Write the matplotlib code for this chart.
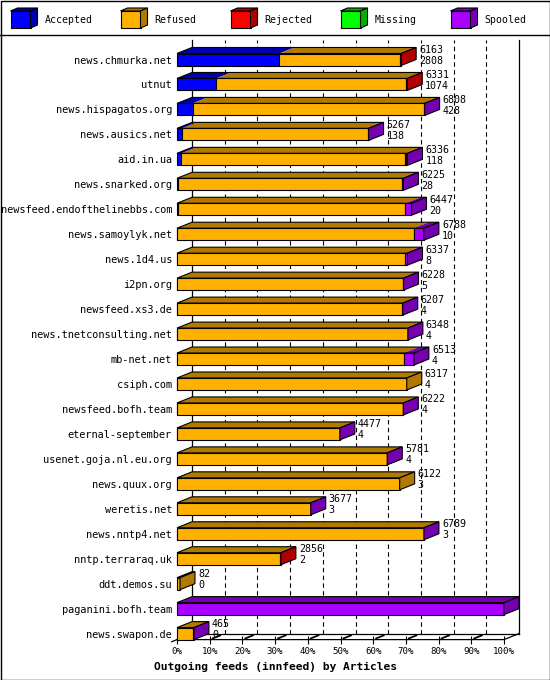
import matplotlib.pyplot as plt
from matplotlib.patches import Polygon, Rectangle

# innfeed outgoing feeds, articles per peer
hosts = ["news.chmurka.net", "utnut", "news.hispagatos.org", "news.ausics.net",
         "aid.in.ua", "news.snarked.org", "newsfeed.endofthelinebbs.com",
         "news.samoylyk.net", "news.1d4.us", "i2pn.org", "newsfeed.xs3.de",
         "news.tnetconsulting.net", "mb-net.net", "csiph.com", "newsfeed.bofh.team",
         "eternal-september", "usenet.goja.nl.eu.org", "news.quux.org",
         "weretis.net", "news.nntp4.net", "nntp.terraraq.uk", "ddt.demos.su",
         "paganini.bofh.team", "news.swapon.de"]
total = [6163, 6331, 6808, 5267, 6336, 6225, 6447, 6788, 6337, 6228, 6207, 6348,
         6513, 6317, 6222, 4477, 5781, 6122, 3677, 6789, 2856, 82, 8991, 465]
accepted = [2808, 1074, 428, 138, 118, 28, 20, 10, 8, 5, 4, 4,
            4, 4, 4, 4, 4, 3, 3, 3, 2, 0, 0, 0]
refused = [3315, 5217, 6360, 5104, 6158, 6147, 6262, 6503, 6249, 6203, 6193, 6334,
           6234, 6313, 6208, 4468, 5772, 6119, 3669, 6781, 2824, 82, 0, 450]
rejected = [40, 40, 0, 0, 30, 0, 0, 0, 0, 0, 0, 0,
            0, 0, 0, 0, 0, 0, 0, 0, 30, 0, 0, 0]
missing = [0] * 24
spooled = [0, 0, 20, 25, 30, 50, 165, 275, 80, 20, 10, 10,
           275, 0, 10, 5, 5, 0, 5, 5, 0, 0, 8991, 15]

series_names = ["Accepted", "Refused", "Rejected", "Missing", "Spooled"]
series = [accepted, refused, rejected, missing, spooled]
front_colors = ["#0000ff", "#ffb000", "#ff0000", "#00ff00", "#aa00ff"]
dark_colors = ["#0000b0", "#b07900", "#b00000", "#00b000", "#7400b0"]

W, H = 550, 680
mono = "DejaVu Sans Mono"
fig = plt.figure(figsize=(W / 100, H / 100), dpi=100)

# legend strip + outer frame, in pixel coordinates
lg = fig.add_axes([0, 0, 1, 1])
lg.set_xlim(0, W)
lg.set_ylim(H, 0)
lg.axis("off")
lg.add_patch(Rectangle((0.5, 0.5), W - 1, H - 1, fill=False, ec="black", lw=1))
lg.plot([0, W], [35, 35], color="black", lw=1)
for j, name in enumerate(series_names):
    x0 = 10.5 + j * 110
    lg.add_patch(Rectangle((x0, 11), 20, 17, fc=front_colors[j], ec="black", lw=0.8))
    lg.add_patch(Polygon([(x0, 11), (x0 + 20, 11), (x0 + 27, 8), (x0 + 7, 8)],
                         fc=dark_colors[j], ec="black", lw=0.8))
    lg.add_patch(Polygon([(x0 + 20, 11), (x0 + 27, 8), (x0 + 27, 25), (x0 + 20, 28)],
                         fc=dark_colors[j], ec="black", lw=0.8))
    lg.text(x0 + 34, 20, name, family=mono, fontsize=7.1, va="center", ha="left")

# main plot: front plane of the 3d bars
x_left, x_right = 177, 504
y_top, y_bot = 46, 639.6
ax = fig.add_axes([x_left / W, 1 - y_bot / H, (x_right - x_left) / W, (y_bot - y_top) / H])
n = len(hosts)
row_px = 24.96
ylo = n - 1 + 6 / row_px
yhi = -(59.5 - y_top) / row_px
xmax = max(total)
ax.set_xlim(0, xmax)
ax.set_ylim(ylo, yhi)
for s in ax.spines.values():
    s.set_visible(False)
ax.patch.set_visible(False)

dx = 15 * xmax / (x_right - x_left)
dy = 6 / row_px
h = 6 / row_px

dash = (0, (4, 3))
for k in range(1, 10):
    xk = xmax * k / 10 + dx
    ax.plot([xk, xk], [ylo - dy, yhi - dy], color="black", lw=0.8, ls=dash,
            clip_on=False, zorder=1)
# back wall edges and floor
ax.plot([dx, dx], [ylo - dy, yhi - dy], color="black", lw=0.9, clip_on=False, zorder=1)
ax.plot([xmax + dx, xmax + dx], [ylo - dy, yhi - dy], color="black", lw=0.9,
        clip_on=False, zorder=1)
ax.plot([dx, xmax + dx], [ylo - dy, ylo - dy], color="black", lw=0.9, clip_on=False, zorder=1)
ax.plot([0, xmax, xmax + dx], [ylo, ylo, ylo - dy], color="black", lw=0.9,
        clip_on=False, zorder=1)
ax.plot([dx, -0.35 * dx], [ylo - dy, ylo + 0.35 * dy], color="black", lw=0.9,
        clip_on=False, zorder=1)
for k in range(1, 10):
    xk = xmax * k / 10
    ax.plot([xk + 0.2 * dx, xk + 0.7 * dx], [ylo - 0.2 * dy, ylo - 0.7 * dy],
            color="black", lw=1.3, clip_on=False, zorder=1)

ax.set_xticks([xmax * k / 10 for k in range(11)], [f"{10 * k}%" for k in range(11)])
ax.tick_params(axis="x", direction="inout", length=5.8, width=0.8, pad=2.2,
               labelsize=6.6)
ax.set_yticks(range(n), hosts)
ax.tick_params(axis="y", length=0, pad=3.6, labelsize=7.4)
for lab in ax.get_xticklabels() + ax.get_yticklabels():
    lab.set_family(mono)

for i in range(n):
    left = 0
    last = 0
    for j, vals in enumerate(series):
        w = vals[i]
        if w <= 0:
            continue
        ax.add_patch(Rectangle((left, i - h), w, 2 * h, fc=front_colors[j], ec="black",
                               lw=0.8, clip_on=False, zorder=3))
        ax.add_patch(Polygon([(left, i - h), (left + w, i - h), (left + w + dx, i - h - dy),
                              (left + dx, i - h - dy)], fc=dark_colors[j], ec="none",
                             clip_on=False, zorder=2))
        left += w
        last = j
    tot = total[i]
    ax.add_patch(Polygon([(0, i - h), (tot, i - h), (tot + dx, i - h - dy), (dx, i - h - dy)],
                         fill=False, ec="black", lw=0.8, clip_on=False, zorder=3))
    ax.add_patch(Polygon([(tot, i - h), (tot + dx, i - h - dy), (tot + dx, i + h - dy),
                          (tot, i + h)], fc=dark_colors[last], ec="black", lw=0.8,
                         clip_on=False, zorder=3))
    ax.annotate(str(tot), xy=(tot + dx, i), xytext=(3, 9.5), textcoords="offset pixels",
                family=mono, fontsize=7.2, va="center", ha="left", zorder=4)
    ax.annotate(str(accepted[i]), xy=(tot + dx, i), xytext=(3, -1.5),
                textcoords="offset pixels", family=mono, fontsize=7.2, va="center",
                ha="left", zorder=4)

fig.text(0.5, 1 - 667 / H, "Outgoing feeds (innfeed) by Articles", family=mono,
         fontsize=8.1, weight="bold", ha="center", va="center")

fig.savefig("out.png", dpi=100)
